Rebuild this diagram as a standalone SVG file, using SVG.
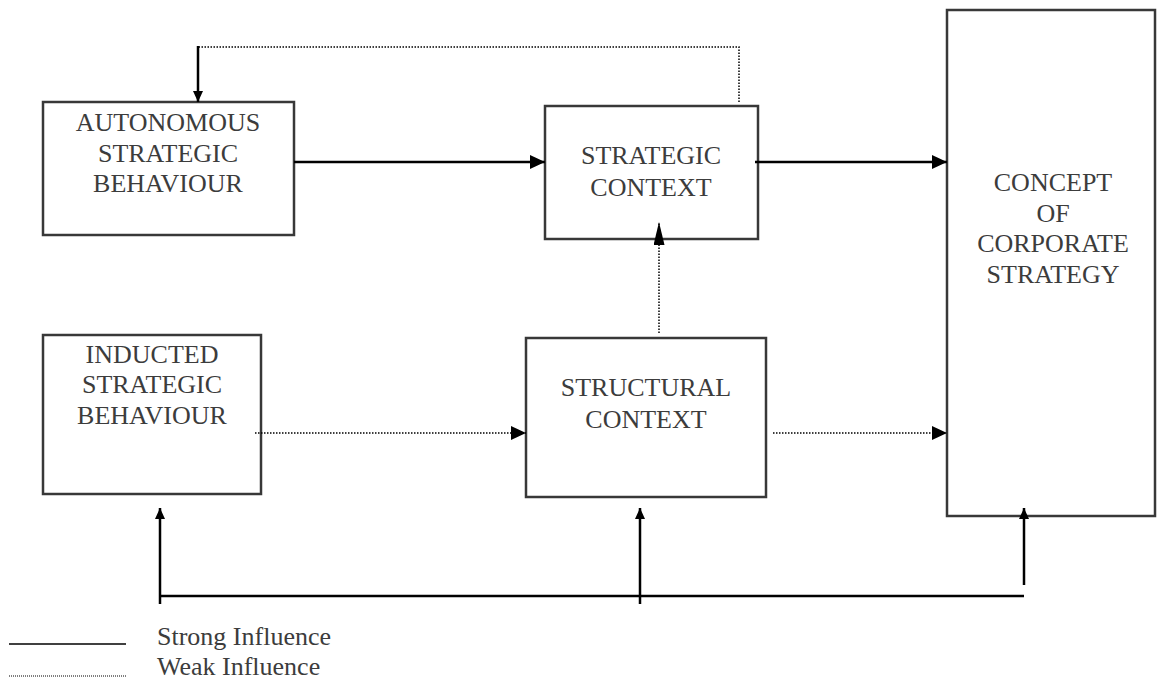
<svg xmlns="http://www.w3.org/2000/svg" width="1157" height="682" viewBox="0 0 1157 682">
  <style>
    .box { fill: #ffffff; stroke: #383838; stroke-width: 2.5; }
    .lbl { font-family: "Liberation Serif", "Times New Roman", serif; font-size: 26px; fill: #3c3c3c; text-anchor: middle; }
    .leg { font-family: "Liberation Serif", "Times New Roman", serif; font-size: 26px; fill: #3c3c3c; }
    .strong { fill: none; stroke: #000000; stroke-width: 2.5; }
    .weak { fill: none; stroke: #000000; stroke-width: 1.5; stroke-dasharray: 1.5 1.5; }
  </style>
  <defs>
    <marker id="ahH" markerUnits="userSpaceOnUse" markerWidth="15" markerHeight="14" refX="15" refY="7" orient="auto" viewBox="0 0 15 14">
      <path d="M0,0 L15,7 L0,14 Z" fill="#000000"/>
    </marker>
    <marker id="ahS" markerUnits="userSpaceOnUse" markerWidth="11" markerHeight="10" refX="11" refY="5" orient="auto" viewBox="0 0 11 10">
      <path d="M0,0 L11,5 L0,10 Z" fill="#000000"/>
    </marker>
    <marker id="ahT" markerUnits="userSpaceOnUse" markerWidth="23" markerHeight="11" refX="23" refY="5.5" orient="auto" viewBox="0 0 23 11">
      <path d="M0,0 L23,5.5 L0,11 Z" fill="#000000"/>
    </marker>
  </defs>

  <g id="node-autonomous">
    <rect class="box" x="43" y="102" width="251" height="133"/>
    <text class="lbl" x="168" y="131">AUTONOMOUS</text>
    <text class="lbl" x="168" y="162">STRATEGIC</text>
    <text class="lbl" x="168" y="192">BEHAVIOUR</text>
  </g>

  <g id="node-strategic-context">
    <rect class="box" x="545" y="106" width="213" height="133"/>
    <text class="lbl" x="651" y="164">STRATEGIC</text>
    <text class="lbl" x="651" y="196">CONTEXT</text>
  </g>

  <g id="node-induced">
    <rect class="box" x="43" y="335" width="218" height="159"/>
    <text class="lbl" x="152" y="363">INDUCTED</text>
    <text class="lbl" x="152" y="393">STRATEGIC</text>
    <text class="lbl" x="152" y="424">BEHAVIOUR</text>
  </g>

  <g id="node-structural-context">
    <rect class="box" x="526" y="338" width="240" height="159"/>
    <text class="lbl" x="646" y="396">STRUCTURAL</text>
    <text class="lbl" x="646" y="428">CONTEXT</text>
  </g>

  <g id="node-concept">
    <rect class="box" x="947" y="10" width="208" height="506"/>
    <text class="lbl" x="1053" y="191">CONCEPT</text>
    <text class="lbl" x="1053" y="222">OF</text>
    <text class="lbl" x="1053" y="252">CORPORATE</text>
    <text class="lbl" x="1053" y="283">STRATEGY</text>
  </g>

  <g id="connectors">
    <!-- feedback from strategic context to autonomous behaviour -->
    <polyline class="weak" points="739,102 739,47 198,47"/>
    <line class="strong" x1="198" y1="46" x2="198" y2="102" marker-end="url(#ahS)"/>
    <!-- autonomous to strategic context -->
    <line class="strong" x1="294" y1="162" x2="545" y2="162" marker-end="url(#ahH)"/>
    <!-- strategic context to concept -->
    <line class="strong" x1="755" y1="162" x2="947" y2="162" marker-end="url(#ahH)"/>
    <!-- structural to strategic context -->
    <line class="weak" x1="659" y1="333" x2="659" y2="222" marker-end="url(#ahT)"/>
    <!-- induced to structural -->
    <line class="weak" x1="255" y1="433" x2="526" y2="433" marker-end="url(#ahH)"/>
    <!-- structural to concept -->
    <line class="weak" x1="773" y1="433" x2="947" y2="433" marker-end="url(#ahH)"/>
    <!-- bottom feedback bus -->
    <line class="strong" x1="160" y1="596" x2="1024" y2="596" stroke-width="3"/>
    <line class="strong" x1="160" y1="604" x2="160" y2="508" marker-end="url(#ahS)"/>
    <line class="strong" x1="640" y1="604" x2="640" y2="508" marker-end="url(#ahS)"/>
    <line class="strong" x1="1024" y1="585" x2="1024" y2="508" marker-end="url(#ahS)"/>
  </g>

  <g id="legend">
    <line x1="9" y1="644" x2="126" y2="644" stroke="#000000" stroke-width="1.5"/>
    <line x1="9" y1="676" x2="126" y2="676" stroke="#000000" stroke-width="1" stroke-dasharray="1 1"/>
    <text class="leg" x="157" y="645">Strong Influence</text>
    <text class="leg" x="157" y="675">Weak Influence</text>
  </g>
</svg>
